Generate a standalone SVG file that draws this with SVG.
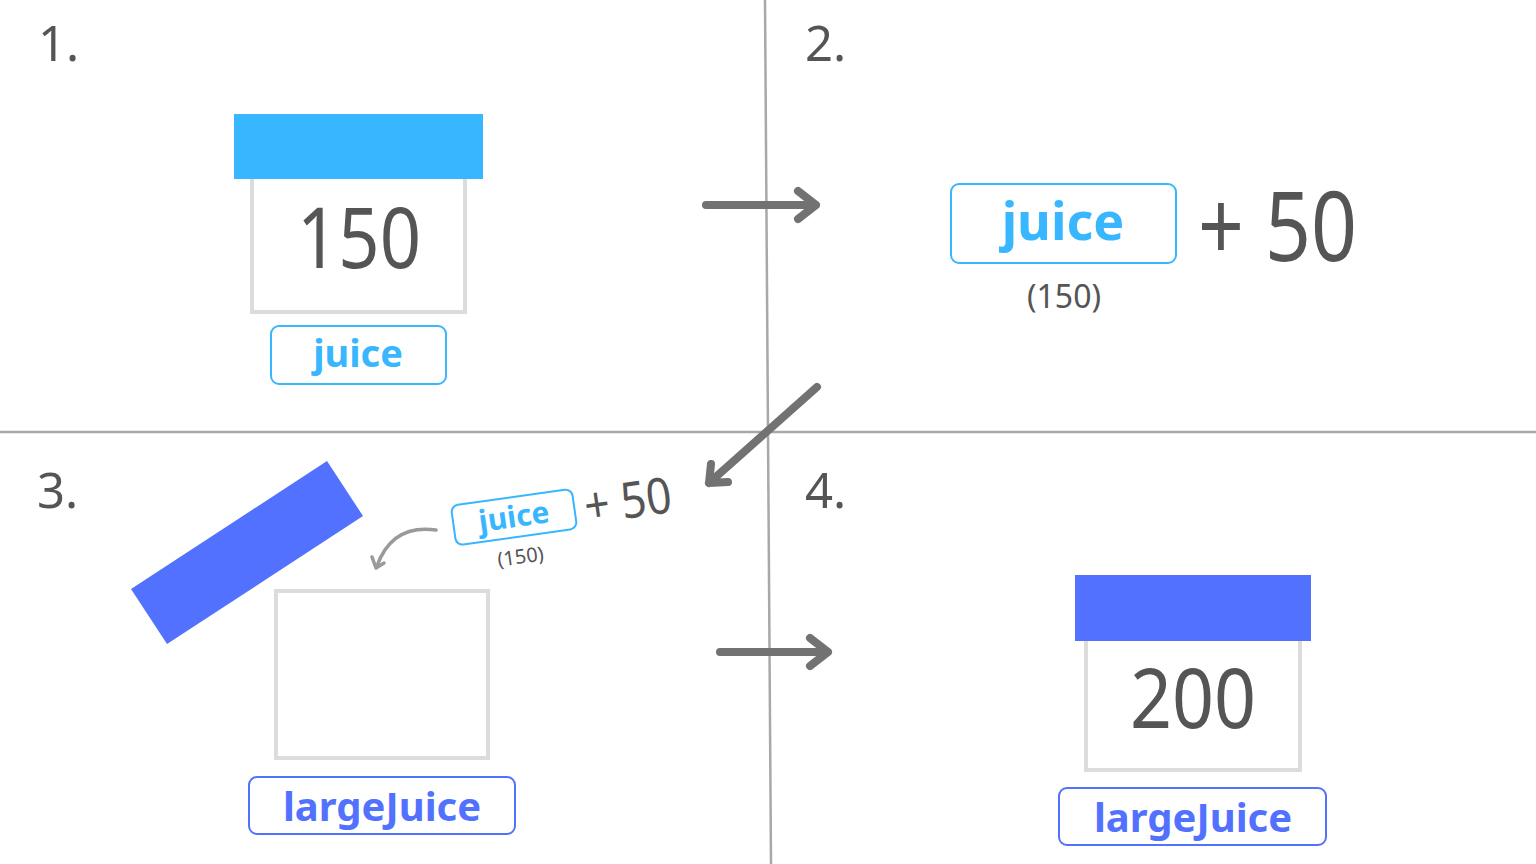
<svg xmlns="http://www.w3.org/2000/svg" width="1536" height="864" viewBox="0 0 1536 864">
<style>
.num{font-family:"Noto Sans","Open Sans",sans-serif;fill:#555555;}
.lbl{font-family:"Noto Sans","Open Sans",sans-serif;font-weight:bold;text-anchor:middle;}
.lb{fill:#38b6ff;}
.db{fill:#5271ff;}
.body{fill:#ffffff;stroke:#dcdcdc;stroke-width:4;}
.tagl{fill:#ffffff;stroke:#38b6ff;stroke-width:2;}
.tagd{fill:#ffffff;stroke:#5271ff;stroke-width:2;}
.arr{fill:none;stroke:#727272;stroke-width:8;stroke-linecap:round;stroke-linejoin:round;}
.div{stroke:#a8a8a8;stroke-width:2.5;}
</style>
<rect width="1536" height="864" fill="#ffffff"/>
<g id="dividers">
<line class="div" x1="765" y1="0" x2="771" y2="864"/>
<line class="div" x1="0" y1="432" x2="1536" y2="432"/>
</g>
<g id="step-numbers">
<text class="num" x="38" y="61" font-size="49">1.</text>
<text class="num" x="805" y="61" font-size="49">2.</text>
<text class="num" x="37" y="508" font-size="49">3.</text>
<text class="num" x="805" y="508" font-size="49">4.</text>
</g>
<g id="box1">
<rect class="body" x="252" y="170" width="213" height="142"/>
<rect x="234" y="114" width="249" height="65" fill="#38b6ff"/>
<text class="num" x="359" y="268" font-size="84" text-anchor="middle" textLength="124" lengthAdjust="spacingAndGlyphs">150</text>
</g>
<g id="label-juice-1">
<rect class="tagl" x="271" y="326" width="175" height="58" rx="8"/>
<text class="lbl lb" x="358" y="367" font-size="38">juice</text>
</g>
<g id="expr2">
<rect class="tagl" x="951" y="184" width="225" height="79" rx="8"/>
<text class="lbl lb" x="1063" y="240" font-size="52">juice</text>
<text class="num" x="1198" y="261" font-size="96" textLength="159" lengthAdjust="spacingAndGlyphs">+ 50</text>
<text class="num" x="1064" y="308" font-size="32" text-anchor="middle">(150)</text>
</g>
<g id="box3">
<rect class="body" x="276" y="591" width="212" height="167"/>
<polygon points="327,461 363,516 167,644 131,589" fill="#5271ff"/>
</g>
<g id="label-largeJuice-3">
<rect class="tagd" x="249" y="777" width="266" height="57" rx="8"/>
<text class="lbl db" x="382" y="821" font-size="40">largeJuice</text>
</g>
<g id="expr3" transform="rotate(-8 515 517)">
<rect class="tagl" x="453" y="497" width="122" height="40" rx="7"/>
<text class="lbl lb" x="514" y="527" font-size="30">juice</text>
<text class="num" x="515" y="564" font-size="20" text-anchor="middle">(150)</text>
<text class="num" x="585" y="534" font-size="50" textLength="88" lengthAdjust="spacingAndGlyphs">+ 50</text>
</g>
<g id="box4">
<rect class="body" x="1086" y="632" width="214" height="138"/>
<rect x="1075" y="575" width="236" height="66" fill="#5271ff"/>
<text class="num" x="1193" y="728" font-size="82" text-anchor="middle" textLength="126" lengthAdjust="spacingAndGlyphs">200</text>
</g>
<g id="label-largeJuice-4">
<rect class="tagd" x="1059" y="788" width="267" height="57" rx="8"/>
<text class="lbl db" x="1193" y="832" font-size="40">largeJuice</text>
</g>
<g id="connectors">
<path class="arr" d="M706,205 L816,205 M798,191 L816,205 L798,219"/>
<path class="arr" d="M817,387 L709,483 M711,464 L709,483 L728,482"/>
<path class="arr" d="M720,652 L828,652 M810,638 L828,652 L810,666"/>
<path d="M436,530 Q392,524 377,566" fill="none" stroke="#9a9a9a" stroke-width="3.5" stroke-linecap="round"/>
<path d="M372,557 L376,568 L384,563" fill="none" stroke="#9a9a9a" stroke-width="3.5" stroke-linecap="round" stroke-linejoin="round"/>
</g>
</svg>
